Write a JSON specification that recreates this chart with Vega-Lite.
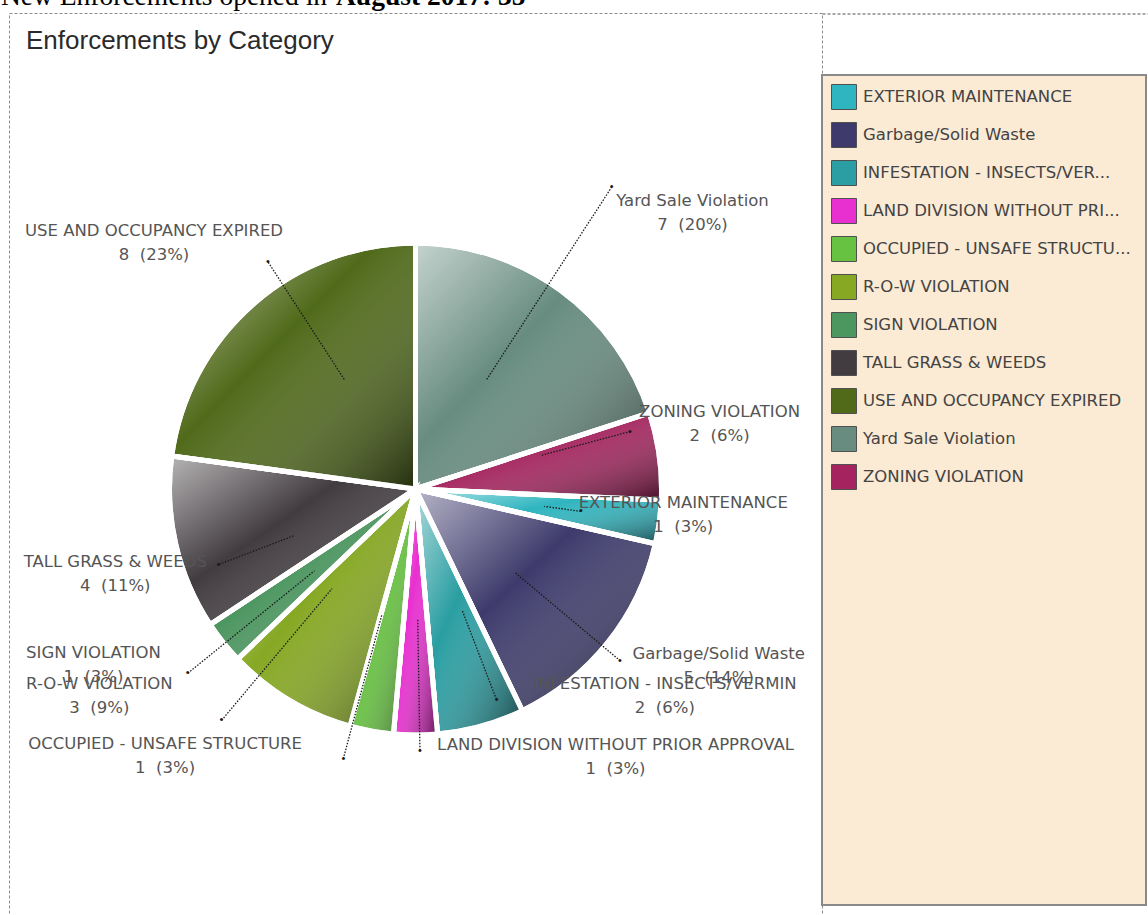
{
  "$schema": "https://vega.github.io/schema/vega-lite/v6.json",
  "background": "white",
  "padding": {"left": 0, "top": -18, "right": 0, "bottom": 0},
  "data": {"values": [
    {"category": "EXTERIOR MAINTENANCE", "count": 1, "percent": 3},
    {"category": "Garbage/Solid Waste", "count": 5, "percent": 14},
    {"category": "INFESTATION - INSECTS/VERMIN", "count": 2, "percent": 6},
    {"category": "LAND DIVISION WITHOUT PRIOR APPROVAL", "count": 1, "percent": 3},
    {"category": "OCCUPIED - UNSAFE STRUCTURE", "count": 1, "percent": 3},
    {"category": "R-O-W VIOLATION", "count": 3, "percent": 9},
    {"category": "SIGN VIOLATION", "count": 1, "percent": 3},
    {"category": "TALL GRASS & WEEDS", "count": 4, "percent": 11},
    {"category": "USE AND OCCUPANCY EXPIRED", "count": 8, "percent": 23},
    {"category": "Yard Sale Violation", "count": 7, "percent": 20},
    {"category": "ZONING VIOLATION", "count": 2, "percent": 6}
  ]},
  "bounds": "flush",
  "spacing": 0,
  "resolve": {"scale": {"color": "shared"}, "legend": {"color": "independent"}},
  "hconcat": [
    {
      "width": 813,
      "height": 952,
      "view": {"stroke": "#8c8c8c", "strokeDash": [3, 2], "strokeWidth": 1},
      "title": {"text": "Enforcements by Category", "font": "Liberation Sans", "fontSize": 26, "fontWeight": "normal", "color": "#2a2a2a", "anchor": "start", "frame": "group", "baseline": "alphabetic", "offset": -62, "dx": 17},
      "encoding": {
        "theta": {"field": "count", "type": "quantitative", "stack": true, "scale": {"range": [1.615676, 7.898861]}}
      },
      "layer": [
        {
          "mark": {"type": "arc", "radius": 246, "stroke": "white", "strokeWidth": 5, "opacity": 1},
          "encoding": {
            "color": {"field": "category", "type": "nominal", "legend": null,
              "scale": {"range": ["#2fb5bf", "#3e3b6c", "#2a9ea2", "#e82fd0", "#66c240", "#86a823", "#4c9660", "#423c40", "#506a1a", "#688c80", "#a5245f"]}}
          }
        },
        {
          "mark": {"type": "arc", "radius": 246, "stroke": "white", "strokeWidth": 5, "opacity": 1,
            "fill": {"gradient": "linear", "x1": 0, "y1": 0, "x2": 1, "y2": 1, "stops": [{"offset": 0, "color": "rgba(255,255,255,0.62)"}, {"offset": 0.42, "color": "rgba(255,255,255,0)"}, {"offset": 1, "color": "rgba(0,0,0,0.58)"}]}},
          "encoding": {"detail": {"field": "category"}}
        },
        {
          "mark": {"type": "arc", "filled": false, "stroke": "#1a1a1a", "strokeWidth": 1.3, "strokeDash": [1.5, 1.5], "padAngle": 3.2, "radius2": 130,
            "radius": {"expr": "({'EXTERIOR MAINTENANCE':166.75,'Garbage/Solid Waste':267.25,'INFESTATION - INSECTS/VERMIN':225.25,'LAND DIVISION WITHOUT PRIOR APPROVAL':261.25,'OCCUPIED - UNSAFE STRUCTURE':279.25,'R-O-W VIOLATION':301.75,'SIGN VIOLATION':292.75,'TALL GRASS & WEEDS':210.25,'USE AND OCCUPANCY EXPIRED':270.25,'Yard Sale Violation':360.25,'ZONING VIOLATION':222.25})[datum.category]"},
            "thetaOffset": {"expr": "({'EXTERIOR MAINTENANCE':0,'Garbage/Solid Waste':0.025,'INFESTATION - INSECTS/VERMIN':-0.098,'LAND DIVISION WITHOUT PRIOR APPROVAL':-0.017,'OCCUPIED - UNSAFE STRUCTURE':0.082,'R-O-W VIOLATION':0.159,'SIGN VIOLATION':-0.007,'TALL GRASS & WEEDS':-0.142,'USE AND OCCUPANCY EXPIRED':0.142,'Yard Sale Violation':-0.052,'ZONING VIOLATION':-0.127})[datum.category]"}
          },
          "encoding": {"detail": {"field": "category"}}
        },
        {
          "mark": {"type": "text", "text": "•", "fontSize": 11, "color": "#1a1a1a", "align": "center", "baseline": "middle",
            "radius": {"expr": "({'EXTERIOR MAINTENANCE':167,'Garbage/Solid Waste':267,'INFESTATION - INSECTS/VERMIN':226,'LAND DIVISION WITHOUT PRIOR APPROVAL':262,'OCCUPIED - UNSAFE STRUCTURE':279,'R-O-W VIOLATION':302,'SIGN VIOLATION':293,'TALL GRASS & WEEDS':211,'USE AND OCCUPANCY EXPIRED':271,'Yard Sale Violation':360,'ZONING VIOLATION':222})[datum.category]"},
            "thetaOffset": {"expr": "({'EXTERIOR MAINTENANCE':0,'Garbage/Solid Waste':0.025,'INFESTATION - INSECTS/VERMIN':-0.098,'LAND DIVISION WITHOUT PRIOR APPROVAL':-0.017,'OCCUPIED - UNSAFE STRUCTURE':0.082,'R-O-W VIOLATION':0.159,'SIGN VIOLATION':-0.007,'TALL GRASS & WEEDS':-0.142,'USE AND OCCUPANCY EXPIRED':0.142,'Yard Sale Violation':-0.052,'ZONING VIOLATION':-0.127})[datum.category]"}
          },
          "encoding": {"detail": {"field": "category"}}
        },
        {
          "mark": {"type": "text", "font": "DejaVu Sans", "fontSize": 16.5, "color": "#555555", "lineHeight": 24, "align": "center", "baseline": "middle", "dy": -12,
            "text": {"expr": "[datum.category, datum.count + '\u00a0 (' + datum.percent + '%)']"},
            "radius": {"expr": "({'EXTERIOR MAINTENANCE':269,'Garbage/Solid Waste':351,'INFESTATION - INSECTS/VERMIN':324,'LAND DIVISION WITHOUT PRIOR APPROVAL':334,'OCCUPIED - UNSAFE STRUCTURE':366,'R-O-W VIOLATION':378,'SIGN VIOLATION':367,'TALL GRASS & WEEDS':312,'USE AND OCCUPANCY EXPIRED':359,'Yard Sale Violation':391,'ZONING VIOLATION':311})[datum.category]"},
            "thetaOffset": {"expr": "({'EXTERIOR MAINTENANCE':-0.038,'Garbage/Solid Waste':-0.145,'INFESTATION - INSECTS/VERMIN':-0.609,'LAND DIVISION WITHOUT PRIOR APPROVAL':-0.642,'OCCUPIED - UNSAFE STRUCTURE':0.574,'R-O-W VIOLATION':0.452,'SIGN VIOLATION':0.173,'TALL GRASS & WEEDS':-0.051,'USE AND OCCUPANCY EXPIRED':-0.098,'Yard Sale Violation':0.159,'ZONING VIOLATION':-0.077})[datum.category]"}
          },
          "encoding": {"detail": {"field": "category"}}
        }
      ]
    },
    {
      "bounds": "flush",
      "spacing": 61,
      "resolve": {"scale": {"color": "shared"}, "legend": {"color": "independent"}},
      "vconcat": [
        {
          "width": 326,
          "height": 1,
          "data": {"values": []},
          "mark": "point",
          "view": {"stroke": "#a8a8a8", "strokeDash": [3, 2], "strokeWidth": 1},
          "title": {"text": "New Enforcements opened in", "font": "Liberation Serif", "fontSize": 27.5, "fontWeight": "normal", "color": "#000000", "anchor": "start", "frame": "group", "baseline": "alphabetic", "offset": -19.5, "dx": -821}
        },
        {
          "width": 324,
          "height": 830,
          "view": {"fill": "#fbead4", "stroke": "#8a8a8a", "strokeWidth": 2},
          "title": {"text": "August 2017: 35", "font": "Liberation Serif", "fontSize": 27.5, "fontWeight": "bold", "color": "#000000", "anchor": "start", "frame": "group", "baseline": "alphabetic", "offset": 42.5, "dx": -486},
          "mark": {"type": "square", "size": 0, "opacity": 1},
          "encoding": {
            "color": {"field": "category", "type": "nominal",
              "scale": {"range": ["#2fb5bf", "#3e3b6c", "#2a9ea2", "#e82fd0", "#66c240", "#86a823", "#4c9660", "#423c40", "#506a1a", "#688c80", "#a5245f"]},
              "legend": {"orient": "top-left", "offset": 9, "title": null, "padding": 0, "symbolType": "square", "symbolSize": 625, "symbolStrokeColor": "#505050", "symbolStrokeWidth": 1, "symbolOpacity": 1, "labelFont": "DejaVu Sans", "labelFontSize": 16.5, "labelColor": "#444444", "labelLimit": 320, "labelOffset": 6, "rowPadding": 8,
                "labelExpr": "length(datum.label) > 25 ? substring(datum.label, 0, 25) + '...' : datum.label"}
            }
          }
        }
      ]
    }
  ],
  "config": {"view": {"stroke": null}}
}
